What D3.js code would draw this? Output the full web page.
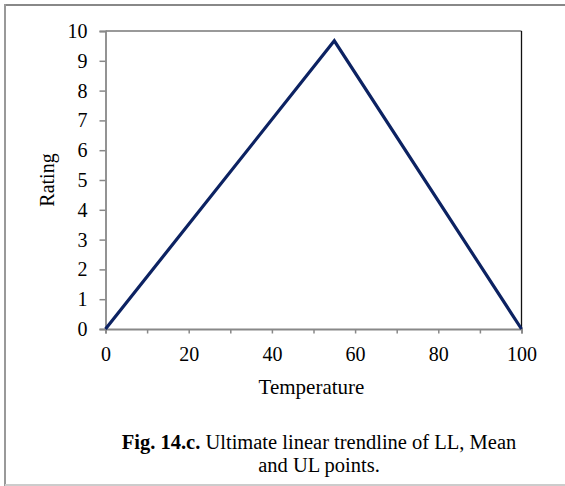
<!DOCTYPE html>
<html>
<head>
<meta charset="utf-8">
<script src="https://cdn.jsdelivr.net/npm/d3@7"></script>
<style>
  html, body { margin: 0; padding: 0; background: #fff; }
  svg { display: block; }
  text { font-family: "Liberation Serif", "Times New Roman", serif; fill: #000; }
</style>
</head>
<body>
<svg id="chart" width="565" height="486"></svg>
<script>
// Data
const temperature = [0, 55, 100];
const rating = [0, 9.67, 0];
const xTicks = [0, 10, 20, 30, 40, 50, 60, 70, 80, 90, 100];
const xLabels = [0, 20, 40, 60, 80, 100];
const yTicks = [0, 1, 2, 3, 4, 5, 6, 7, 8, 9, 10];

const svg = d3.select("#chart");
const m = { left: 105.5, right: 521.5, top: 31, bottom: 329 };

// frame
svg.append("line").attr("x1", 5).attr("x2", 565).attr("y1", 5).attr("y2", 5)
  .attr("stroke", "#888").attr("stroke-width", 2);
svg.append("line").attr("x1", 5).attr("x2", 5).attr("y1", 4).attr("y2", 486)
  .attr("stroke", "#999").attr("stroke-width", 2);
svg.append("line").attr("x1", 5).attr("x2", 565).attr("y1", 485).attr("y2", 485)
  .attr("stroke", "#ccc").attr("stroke-width", 2);

const x = d3.scaleLinear().domain([0, 100]).range([m.left, m.right]);
const y = d3.scaleLinear().domain([0, 10]).range([m.bottom, m.top]);

// plot border top & right
svg.append("line").attr("x1", m.left).attr("x2", m.right).attr("y1", m.top).attr("y2", m.top)
  .attr("stroke", "#777").attr("stroke-width", 1.3);
svg.append("line").attr("x1", m.right).attr("x2", m.right).attr("y1", m.top).attr("y2", m.bottom)
  .attr("stroke", "#111").attr("stroke-width", 1.3);

// y axis
const yAxis = svg.append("g").attr("transform", `translate(${m.left},0)`)
  .call(d3.axisLeft(y).tickValues(yTicks).tickFormat(d3.format("d")).tickSize(6).tickPadding(12));
yAxis.select(".domain").attr("stroke", "#888").attr("stroke-width", 1.8);
yAxis.selectAll(".tick line").attr("stroke", "#888").attr("stroke-width", 1.5);
yAxis.selectAll("text").style("font-size", "20px").style("font-family", "Liberation Serif").attr("fill", "#000");

// x axis
const xAxis = svg.append("g").attr("transform", `translate(0,${m.bottom})`)
  .call(d3.axisBottom(x).tickValues(xTicks)
    .tickFormat(d => xLabels.includes(d) ? d : "").tickSize(4.5).tickPadding(13));
xAxis.select(".domain").attr("stroke", "#888").attr("stroke-width", 1.8);
xAxis.selectAll(".tick line").attr("stroke", "#888").attr("stroke-width", 1.5);
xAxis.selectAll("text").style("font-size", "20px").style("font-family", "Liberation Serif").attr("fill", "#000");

// line
const pts = temperature.map((t, i) => [t, rating[i]]);
svg.append("path").datum(pts)
  .attr("fill", "none").attr("stroke", "#0c2262").attr("stroke-width", 3.2)
  .attr("stroke-linejoin", "miter")
  .attr("d", d3.line().x(d => x(d[0])).y(d => y(d[1])));

// axis titles
svg.append("text").attr("transform", `translate(54,${(m.top + m.bottom) / 2}) rotate(-90)`)
  .attr("text-anchor", "middle").style("font-size", "20px").text("Rating");
svg.append("text").attr("x", (m.left + m.right) / 2 - 2).attr("y", 394)
  .attr("text-anchor", "middle").style("font-size", "21px").text("Temperature");

// caption
const cap = svg.append("text").attr("x", 319).attr("y", 449.3).attr("text-anchor", "middle").style("font-size", "20.5px");
cap.append("tspan").attr("font-weight", "bold").text("Fig. 14.c.");
cap.append("tspan").text(" Ultimate linear trendline of LL, Mean");
svg.append("text").attr("x", 319).attr("y", 472.3).attr("text-anchor", "middle").style("font-size", "20.5px")
  .text("and UL points.");
</script>
</body>
</html>
